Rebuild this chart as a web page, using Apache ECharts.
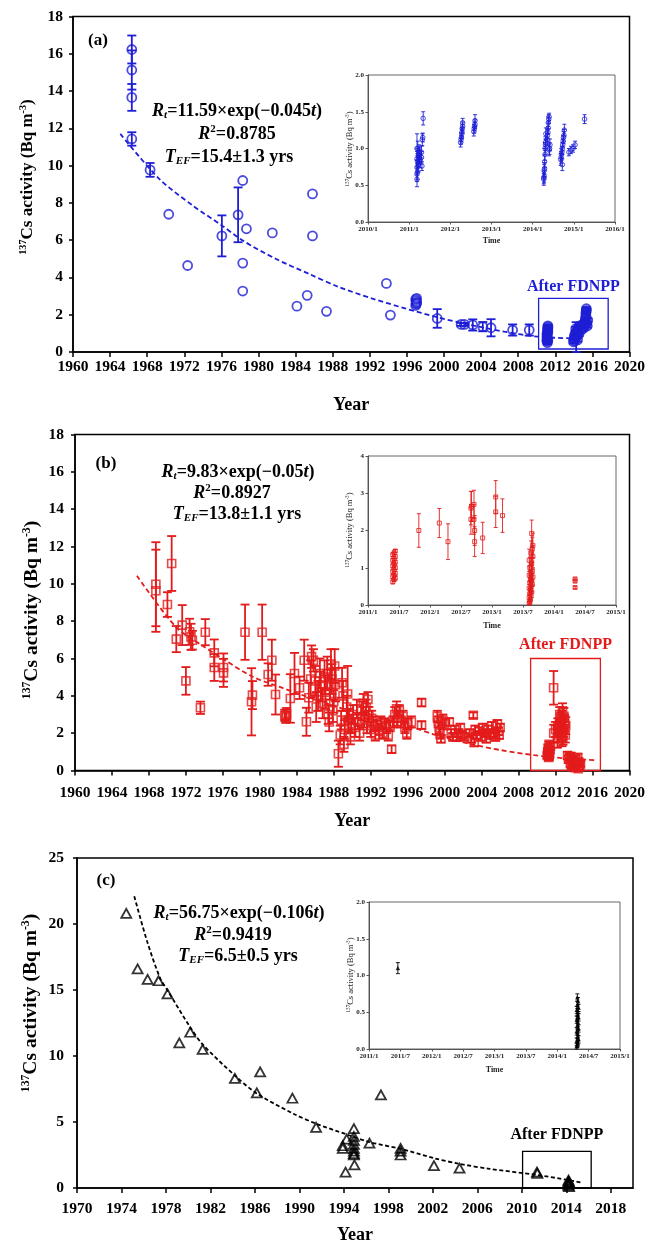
<!DOCTYPE html>
<html><head><meta charset="utf-8">
<script src="https://cdn.jsdelivr.net/npm/echarts@6/dist/echarts.min.js"></script>
<style>html,body{margin:0;padding:0;background:#fff}#c{width:648px;height:1245px}</style>
</head><body><div id="c"></div>
<script>
// ---------- DATA: [year, value, error] ----------
const aMain = [
[1966.34,16.23,0.75],[1966.34,15.13,1.05],[1966.34,13.66,0.72],[1966.34,11.43,0.36],
[1968.31,9.77,0.37],[1970.32,7.39,0],[1972.36,4.64,0],[1976.05,6.23,1.1],[1977.8,7.36,1.47],
[1978.3,9.2,0],[1978.3,4.77,0],[1978.3,3.27,0],[1978.7,6.61,0],[1981.49,6.39,0],
[1984.14,2.46,0],[1985.25,3.04,0],[1985.82,8.48,0],[1985.82,6.23,0],[1987.33,2.18,0],
[1993.79,3.68,0],[1994.22,1.98,0],
[1996.95,2.5,0],[1997.0,2.58,0],[1997.05,2.66,0],[1997.0,2.74,0],[1996.95,2.82,0],[1997.05,2.88,0],[1997.0,2.62,0],
[1999.27,1.80,0.5],[2001.85,1.48,0.08],[2002.2,1.48,0.08],[2003.1,1.45,0.3],[2004.18,1.36,0.25],[2005.07,1.30,0.46],[2007.4,1.18,0.3],[2009.19,1.18,0.3],
[2011.1,0.58,0.08],[2011.1,0.66,0.08],[2011.15,0.72,0.08],[2011.1,0.8,0.08],[2011.15,0.88,0.08],[2011.1,0.96,0.08],[2011.15,1.02,0.08],[2011.2,1.1,0.08],[2011.15,1.18,0.08],[2011.2,1.26,0.08],[2011.2,1.34,0.08],[2011.2,1.4,0.06],[2011.2,0.62,0.08],[2011.15,0.5,0.08],
[2013.95,0.55,0.1],[2014.0,0.7,0.1],[2014.05,0.85,0.1],[2014.1,0.6,0.1],[2014.15,1.0,0.1],[2014.2,0.75,0.1],[2014.25,0.8,0.8],[2014.3,1.1,0.1],[2014.35,0.9,0.1],[2014.4,1.2,0.1],[2014.45,1.05,0.1],[2014.5,1.3,0.1],[2014.55,0.95,0.1],[2014.6,1.4,0.1],[2014.4,0.65,0.1],[2014.2,1.25,0.1],
[2014.85,1.2,0.1],[2014.9,1.35,0.1],[2015.0,1.5,0.1],[2015.1,1.3,0.1],[2015.2,1.65,0.1],[2015.25,1.8,0.1],[2015.3,1.95,0.1],[2015.3,2.1,0.1],[2015.35,2.22,0.1],[2015.35,2.32,0.08],[2015.4,1.55,0.1],[2015.45,1.4,0.1],[2015.2,1.45,0.1],[2015.5,1.7,0.1]
];
const aFit = [[1965.1,11.7],[1969.3,9.29],[1972.9,7.86],[1976.05,6.79],[1978.3,5.98],[1981.85,5.0],[1985.4,4.2],[1988.6,3.5],[1992.2,2.88],[1995.8,2.34],[1999.3,1.86],[2002.9,1.45],[2006.5,1.09],[2010.1,0.82],[2013.7,0.73],[2014.7,0.7]];
const aInset = [
[2011.19,0.58,0.1],[2011.19,0.65,0.1],[2011.2,0.68,0.1],[2011.19,0.74,0.1],[2011.2,0.83,0.1],[2011.19,0.86,0.1],[2011.19,1.0,0.2],[2011.21,1.0,0.1],[2011.22,0.9,0.1],[2011.23,0.78,0.1],[2011.24,0.95,0.1],[2011.25,0.88,0.1],[2011.26,0.92,0.1],[2011.27,0.84,0.1],
[2011.3,0.88,0.08],[2011.3,0.95,0.08],[2011.32,1.12,0.08],[2011.33,1.15,0.06],[2011.34,1.41,0.09],[2011.31,0.76,0.06],
[2012.25,1.08,0.06],[2012.26,1.12,0.06],[2012.27,1.15,0.06],[2012.28,1.2,0.06],[2012.28,1.22,0.06],[2012.29,1.27,0.06],[2012.3,1.3,0.06],[2012.3,1.35,0.06],
[2012.57,1.23,0.06],[2012.58,1.27,0.06],[2012.59,1.3,0.06],[2012.6,1.33,0.06],[2012.6,1.38,0.08],
[2014.27,0.58,0.08],[2014.27,0.6,0.08],[2014.28,0.62,0.08],[2014.28,0.7,0.08],[2014.29,0.73,0.08],[2014.29,0.82,0.08],[2014.3,0.92,0.08],[2014.3,1.0,0.08],[2014.31,1.05,0.08],[2014.31,1.08,0.08],[2014.32,1.2,0.08],[2014.35,1.12,0.08],[2014.36,1.18,0.08],[2014.37,1.22,0.08],[2014.38,1.28,0.08],[2014.38,1.35,0.08],[2014.39,1.4,0.06],[2014.4,1.43,0.05],[2014.41,1.0,0.08],[2014.42,1.05,0.08],[2014.4,0.98,0.08],
[2014.68,0.85,0.08],[2014.69,0.88,0.08],[2014.7,0.92,0.08],[2014.71,0.95,0.08],[2014.72,1.0,0.08],[2014.73,1.05,0.08],[2014.74,1.1,0.08],[2014.75,1.15,0.08],[2014.76,1.18,0.08],[2014.77,1.25,0.08],[2014.72,0.78,0.08],
[2014.88,0.95,0.05],[2014.93,0.98,0.05],[2014.98,1.0,0.05],[2015.03,1.05,0.05],
[2015.26,1.4,0.06]
];

const bMain = [
[1968.75,9.98,2.25],[1968.75,9.63,2.2],[1970.0,8.89,0.66],[1970.46,11.09,1.47],[1970.96,7.04,0.7],[1971.6,7.79,1.07],[1972.0,4.8,0.74],[1972.4,7.43,0.7],[1972.55,7.16,0.7],[1972.7,6.98,0.5],[1973.57,3.36,0.33],[1974.1,7.41,0.7],[1975.07,6.3,0.72],[1975.07,5.52,0.72],[1976.07,5.52,0.75],[1976.07,5.23,0.75],[1978.4,7.41,1.48],[1979.1,3.68,1.8],[1979.2,4.04,0.75],[1980.25,7.41,1.48],[1980.9,5.14,0.6],[1981.3,5.91,1.1],[1981.7,4.07,1.07],[1982.7,2.96,0.3],[1982.8,2.85,0.3],[1982.9,3.05,0.3],[1983.3,3.86,1.3],[1983.75,5.2,1.1],[1984.3,4.43,0.6],[1984.8,5.91,1.1],[1985.04,2.61,0.75],[1985.3,3.9,0.8],[1985.5,4.9,1.0],
[1985.6,6.1,0.6],[1985.8,5.9,0.6],[1986.0,4.8,0.8],[1986.1,3.4,0.8],[1986.3,4.0,0.8],[1986.5,5.2,0.8],[1986.6,4.5,0.8],[1986.8,3.6,0.8],[1987.0,5.0,0.9],[1987.1,4.2,0.9],[1987.3,5.2,0.9],[1987.4,3.0,0.5],[1987.5,2.6,0.5],[1987.6,4.6,0.8],[1987.7,5.7,0.8],[1987.8,4.9,0.8],[1987.9,3.2,0.6],[1988.0,3.7,0.6],[1988.1,5.6,0.9],[1988.2,4.6,0.9],
[1988.5,0.9,0.7],[1988.7,1.9,0.5],[1988.8,2.7,0.5],[1988.9,4.7,0.8],[1989.0,4.0,0.8],[1989.1,1.4,0.4],[1989.2,2.2,0.5],[1989.4,3.4,0.6],[1989.5,4.1,1.5],[1989.6,2.7,0.6],[1989.8,1.8,0.4],[1989.9,2.5,0.5],
[1990.1,3.0,0.5],[1990.3,2.3,0.5],[1990.5,3.3,0.5],[1990.6,2.6,0.4],[1990.8,2.0,0.4],[1991.0,3.2,0.5],[1991.2,3.6,0.5],[1991.3,2.7,0.4],[1991.5,3.4,0.4],[1991.6,2.4,0.4],[1991.7,3.8,0.4],[1991.8,3.0,0.4],[1992.0,2.2,0.4],[1992.1,2.8,0.4],[1992.3,2.5,0.4],[1992.5,1.9,0.3],[1992.7,2.4,0.3],[1992.9,2.2,0.3],[1993.1,2.6,0.3],[1993.3,2.0,0.3],[1993.5,2.5,0.3],[1993.7,2.3,0.3],[1993.9,1.9,0.3],[1994.1,2.4,0.3],[1994.26,1.14,0.2],[1994.4,2.6,0.3],[1994.6,3.0,0.4],[1994.8,3.3,0.4],[1994.9,2.8,0.4],[1995.1,3.2,0.3],[1995.3,2.6,0.3],[1995.5,2.9,0.3],[1995.7,2.3,0.3],[1995.9,2.0,0.3],[1996.0,2.5,0.3],[1996.4,2.6,0.3],[1997.5,3.64,0.2],[1997.5,2.43,0.2],
[1999.2,2.9,0.3],[1999.3,2.6,0.3],[1999.4,2.3,0.3],[1999.5,2.0,0.3],[1999.6,1.7,0.2],[1999.8,2.7,0.3],[2000.0,2.5,0.3],[2000.5,2.6,0.2],[2000.7,2.0,0.2],[2000.9,1.8,0.2],[2001.1,2.2,0.2],[2001.3,1.8,0.2],[2001.5,2.0,0.2],[2001.7,2.3,0.2],[2001.9,1.9,0.2],[2002.1,1.8,0.2],
[2002.7,2.0,0.2],[2002.9,1.7,0.2],[2003.1,2.96,0.15],[2003.2,1.5,0.2],[2003.3,2.2,0.2],[2003.5,1.9,0.2],[2003.7,2.1,0.2],[2003.9,1.8,0.2],[2004.1,2.3,0.2],[2004.3,2.0,0.2],[2004.5,1.7,0.2],[2004.7,2.2,0.2],[2004.9,1.9,0.2],[2005.1,2.4,0.2],[2005.3,2.0,0.2],[2005.5,1.8,0.2],[2005.7,2.5,0.2],[2005.8,2.1,0.2],[2005.9,1.9,0.2],[2006.0,2.3,0.2],
[2011.1,0.8,0.15],[2011.15,1.0,0.15],[2011.2,1.2,0.15],[2011.25,0.7,0.15],[2011.3,1.4,0.15],[2011.35,0.9,0.15],[2011.4,1.1,0.15],[2011.45,1.3,0.15],[2011.2,0.95,0.15],[2011.3,0.75,0.15],
[2011.79,4.43,0.9],[2011.8,2.0,0.45],[2012.0,2.2,0.4],[2012.2,1.7,0.48],[2012.25,2.4,0.4],[2012.35,1.9,0.4],[2012.4,2.3,0.4],[2012.45,3.0,0.4],[2012.5,2.6,0.4],[2012.55,2.7,0.4],[2012.6,2.0,0.4],[2012.65,2.8,0.4],[2012.7,1.7,0.4],[2012.75,3.2,0.4],[2012.8,1.8,0.42],[2012.85,2.2,0.4],[2012.9,2.9,0.45],[2012.95,2.6,0.4],[2013.0,2.5,0.42],[2013.05,1.9,0.4],[2013.1,2.4,0.45],
[2013.3,0.8,0.2],[2013.4,0.6,0.2],[2013.5,0.7,0.2],[2013.6,0.4,0.2],[2013.65,0.75,0.2],[2013.7,0.3,0.2],[2013.8,0.55,0.2],[2013.85,0.2,0.15],[2013.9,0.5,0.2],[2014.0,0.3,0.2],[2014.1,0.15,0.15],[2014.2,0.6,0.2],[2014.3,0.4,0.2],[2014.4,0.7,0.2],[2014.45,0.1,0.1],[2014.5,0.45,0.2],[2014.6,0.2,0.15],[2014.7,0.35,0.15]
];
const bFit = [[1966.7,10.43],[1970.9,7.7],[1973.75,6.7],[1976.25,5.91],[1979.1,5.05],[1982.3,4.45],[1986,3.8],[1990,3.15],[1993,2.8],[1996.4,2.34],[1998.9,1.92],[2002.5,1.45],[2006.1,1.09],[2009.7,0.82],[2013.25,0.64],[2016.5,0.55]];
const bInset = [
[2011.4,0.62,0.05],[2011.42,0.68,0.05],[2011.44,0.72,0.05],[2011.4,0.76,0.05],[2011.42,0.8,0.05],[2011.44,0.85,0.05],[2011.4,0.9,0.05],[2011.42,0.95,0.05],[2011.44,1.0,0.05],[2011.4,1.05,0.05],[2011.42,1.1,0.05],[2011.44,1.15,0.05],[2011.4,1.2,0.05],[2011.42,1.25,0.05],[2011.44,1.3,0.05],[2011.4,1.35,0.05],[2011.42,1.4,0.05],[2011.44,1.45,0.04],
[2011.82,2.0,0.45],[2012.15,2.2,0.39],[2012.29,1.7,0.48],[2012.66,2.6,0.45],[2012.66,2.3,0.4],[2012.67,2.65,0.4],[2012.71,2.7,0.38],[2012.71,2.3,0.4],[2012.72,2.0,0.4],[2012.72,1.7,0.4],[2012.85,1.8,0.42],[2013.06,2.9,0.44],[2013.06,2.5,0.42],[2013.17,2.4,0.45],
[2013.6,0.05,0.05],[2013.61,0.1,0.08],[2013.62,0.15,0.1],[2013.6,0.2,0.12],[2013.63,0.25,0.12],[2013.61,0.3,0.15],[2013.64,0.35,0.15],[2013.62,0.4,0.15],[2013.6,0.45,0.18],[2013.63,0.5,0.18],[2013.65,0.55,0.2],[2013.61,0.6,0.2],[2013.64,0.65,0.2],[2013.62,0.7,0.22],[2013.66,0.75,0.22],[2013.6,0.8,0.25],[2013.63,0.85,0.25],[2013.65,0.9,0.25],[2013.61,1.0,0.28],[2013.64,1.1,0.3],[2013.6,1.2,0.3],[2013.66,1.3,0.3],[2013.63,1.4,0.32],[2013.65,1.5,0.32],[2013.66,1.6,0.33],[2013.64,1.92,0.36],
[2014.34,0.7,0.03],[2014.34,0.64,0.03],[2014.34,0.47,0.03]
];

const cMain = [
[1974.43,20.8],[1975.45,16.6],[1976.35,15.8],[1977.33,15.7],[1978.14,14.7],[1979.2,11.0],[1980.18,11.8],[1981.3,10.5],[1984.2,8.3],[1986.17,7.2],[1986.47,8.8],[1989.37,6.8],[1991.5,4.6],
[1993.9,3.0],[1993.9,3.2],[1994.25,3.7],[1994.15,1.2],[1994.9,4.5],[1994.9,3.9],[1994.9,3.6],[1994.9,3.3],[1994.9,3.0],[1994.9,2.8],[1994.9,2.6],[1994.9,2.5],[1994.95,1.75],
[1996.3,3.4],[1997.33,7.05],[1999.1,3.0],[1999.1,2.8],[1999.1,2.5],[2002.1,1.7],[2004.4,1.5],
[2011.36,1.2],[2011.4,1.1],[2014.2,0.6],[2014.2,0.5],[2014.2,0.4],[2014.2,0.3],[2014.2,0.2],[2014.25,0.1],[2014.25,0.45]
];
const cFit = [[1975.15,22.1],[1976.3,18.7],[1977.49,15.86],[1978.14,14.97],[1980.18,12.18],[1981.32,10.86],[1984.22,8.5],[1986.17,7.16],[1989.46,5.63],[1991.5,4.87],[1994.25,4.06],[1996.3,3.48],[1999.1,2.97],[2002.1,2.26],[2004.4,1.83],[2007.1,1.45],[2011.36,0.99],[2014.2,0.6],[2015.4,0.4]];
const cInset = [
[2011.46,1.1,0.075],
[2014.31,0.04,0.04],[2014.32,0.06,0.04],[2014.33,0.08,0.04],[2014.31,0.1,0.05],[2014.34,0.13,0.05],[2014.32,0.16,0.05],[2014.33,0.2,0.05],[2014.31,0.24,0.05],[2014.34,0.28,0.05],[2014.32,0.32,0.05],[2014.33,0.36,0.05],[2014.31,0.4,0.05],[2014.34,0.43,0.05],[2014.32,0.46,0.05],[2014.33,0.5,0.05],[2014.31,0.53,0.05],[2014.34,0.56,0.05],[2014.32,0.6,0.05],[2014.33,0.65,0.05],[2014.32,0.7,0.05]
];

// "After FDNPP" boxes: [xMin, yMin, xMax, yMax]
const aBox = [2010.2, 0.16, 2017.7, 2.875];
const bBox = [2009.3, 0, 2016.85, 6.0];
const cBox = [2010.07, 0, 2016.24, 2.77];

// ---------- STYLE ----------
const FONT = 'Liberation Serif';
const BLUE = '#1e1ed6', RED = '#e31b1b', BLACK = '#000000';

function errRender(cap, color, lw) {
  return function (params, api) {
    const x = api.value(0);
    const p1 = api.coord([x, api.value(1)]);
    const p2 = api.coord([x, api.value(2)]);
    const st = { stroke: color, lineWidth: lw };
    return { type: 'group', children: [
      { type: 'line', shape: { x1: p1[0], y1: p1[1], x2: p2[0], y2: p2[1] }, style: st },
      { type: 'line', shape: { x1: p1[0] - cap / 2, y1: p1[1], x2: p1[0] + cap / 2, y2: p1[1] }, style: st },
      { type: 'line', shape: { x1: p2[0] - cap / 2, y1: p2[1], x2: p2[0] + cap / 2, y2: p2[1] }, style: st }
    ]};
  };
}
function errSeries(data, idx, cap, color, lw) {
  return { type: 'custom', xAxisIndex: idx, yAxisIndex: idx, silent: true, z: 2,
    data: data.filter(d => d[2] > 0).map(d => [d[0], d[1] - d[2], d[1] + d[2]]),
    renderItem: errRender(cap, color, lw) };
}
function scat(data, idx, symbol, size, color, bw, fill) {
  return { type: 'scatter', xAxisIndex: idx, yAxisIndex: idx, silent: true, z: 3,
    data: data.map(d => [d[0], d[1]]), symbol, symbolSize: size,
    itemStyle: { color: fill, borderColor: color, borderWidth: bw } };
}
function fit(data, idx, color, dash, box, dist) {
  return { type: 'line', xAxisIndex: idx, yAxisIndex: idx, silent: true, z: 4,
    data: data, smooth: 0.3, symbol: 'none', showSymbol: false,
    lineStyle: { color, width: 1.8, type: dash },
    markArea: { silent: true,
      itemStyle: { color: 'rgba(0,0,0,0)', borderColor: color, borderWidth: 1.3 },
      label: { show: true, position: 'top', distance: dist, color, fontFamily: FONT, fontWeight: 'bold', fontSize: 16 },
      data: [[{ name: 'After FDNPP', coord: [box[0], box[1]] }, { coord: [box[2], box[3]] }]] } };
}

const plainFmt = v => String(Math.round(v));
function mainX(gi, min, max, margin, gap, showMax) {
  return { type: 'value', gridIndex: gi, min, max, interval: 4,
    axisLine: { show: true, onZero: false, lineStyle: { color: '#000', width: 1.5 } },
    axisTick: { show: true, length: 5, lineStyle: { color: '#000', width: 1.5 } },
    axisLabel: { color: '#000', fontFamily: FONT, fontWeight: 'bold', fontSize: 15.5, margin, showMaxLabel: showMax, formatter: plainFmt },
    splitLine: { show: false },
    name: 'Year', nameLocation: 'middle', nameGap: gap,
    nameTextStyle: { color: '#000', fontFamily: FONT, fontWeight: 'bold', fontSize: 18 } };
}
function mainY(gi, max, interval, margin) {
  return { type: 'value', gridIndex: gi, min: 0, max, interval,
    axisLine: { show: true, onZero: false, lineStyle: { color: '#000', width: 1.5 } },
    axisTick: { show: true, length: 4, lineStyle: { color: '#000', width: 1.5 } },
    axisLabel: { color: '#000', fontFamily: FONT, fontWeight: 'bold', fontSize: 15.5, margin, formatter: plainFmt },
    splitLine: { show: false } };
}
function insetX(gi, min, max, interval, fmt, gap) {
  return { type: 'value', gridIndex: gi, min, max, interval,
    axisLine: { show: true, onZero: false, lineStyle: { color: '#555', width: 1 } },
    axisTick: { show: true, length: 2.5, lineStyle: { color: '#555', width: 1 } },
    axisLabel: { color: '#222', fontFamily: FONT, fontWeight: 'bold', fontSize: 7, margin: 4, formatter: fmt },
    splitLine: { show: false },
    name: 'Time', nameLocation: 'middle', nameGap: gap,
    nameTextStyle: { color: '#222', fontFamily: FONT, fontWeight: 'bold', fontSize: 8 } };
}
function insetY(gi, max, interval, fmt) {
  return { type: 'value', gridIndex: gi, min: 0, max, interval,
    axisLine: { show: true, onZero: false, lineStyle: { color: '#555', width: 1 } },
    axisTick: { show: true, length: 2.5, lineStyle: { color: '#555', width: 1 } },
    axisLabel: { color: '#222', fontFamily: FONT, fontWeight: 'bold', fontSize: 7, margin: 4, formatter: fmt },
    splitLine: { show: false } };
}
const yearFmt = v => String(Math.round(v)) + '/1';
const halfFmt = v => { const y = Math.floor(v + 1e-6); return (Math.abs(v - y) < 0.01) ? y + '/1' : y + '/7'; };
const f1 = v => v.toFixed(1);
const f0 = v => String(Math.round(v));

const eqRich = {
  n: { fontFamily: FONT, fontWeight: 'bold', fontSize: 18, fill: '#000', lineHeight: 20 },
  i: { fontFamily: FONT, fontWeight: 'bold', fontStyle: 'italic', fontSize: 18, fill: '#000', lineHeight: 20 },
  sub: { fontFamily: FONT, fontWeight: 'bold', fontStyle: 'italic', fontSize: 11, fill: '#000', verticalAlign: 'bottom', lineHeight: 20 },
  sup: { fontFamily: FONT, fontWeight: 'bold', fontSize: 11, fill: '#000', verticalAlign: 'top', lineHeight: 20 }
};
function eq(x, y, text) {
  return { type: 'text', x, y, z: 10, style: { text, rich: eqRich, align: 'center', verticalAlign: 'middle' } };
}
function ytitle(x, y, size, bold, color) {
  const w = bold ? 'bold' : 'normal';
  return { type: 'text', x, y, rotation: Math.PI / 2, z: 10,
    style: { text: '{s|137}{b|Cs activity (Bq m}{s|-3}{b|)}', align: 'center', verticalAlign: 'middle',
      rich: {
        b: { fontFamily: FONT, fontWeight: w, fontSize: size, fill: color, lineHeight: size * 1.15 },
        s: { fontFamily: FONT, fontWeight: w, fontSize: size * 0.6, fill: color, verticalAlign: 'top', lineHeight: size * 1.15 }
      } } };
}
function plabel(x, y, t) {
  return { type: 'text', x, y, z: 10, style: { text: t, fontFamily: FONT, fontWeight: 'bold', fontSize: 17, fill: '#000', align: 'center', verticalAlign: 'middle' } };
}

const option = {
  animation: false,
  backgroundColor: '#fff',
  grid: [
    { left: 73, top: 16.5, width: 559, height: 335.5, show: true, borderColor: '#000', borderWidth: 1.5 },
    { left: 368, top: 75, width: 247, height: 147, show: true, borderColor: '#666', borderWidth: 1, backgroundColor: '#fff' },
    { left: 75, top: 434.5, width: 561, height: 336, show: true, borderColor: '#000', borderWidth: 1.5 },
    { left: 368, top: 456, width: 248, height: 149, show: true, borderColor: '#666', borderWidth: 1, backgroundColor: '#fff' },
    { left: 77, top: 858, width: 556, height: 331, show: true, borderColor: '#000', borderWidth: 1.5 },
    { left: 369, top: 902, width: 251, height: 147, show: true, borderColor: '#666', borderWidth: 1, backgroundColor: '#fff' }
  ],
  xAxis: [
    mainX(0, 1960, 2020, 7, 44, true),
    insetX(1, 2010, 2016, 1, yearFmt, 15),
    mainX(2, 1960, 2020, 14, 42, true),
    insetX(3, 2011, 2015, 0.5, halfFmt, 17),
    mainX(4, 1970, 2020, 13, 38, false),
    insetX(5, 2011, 2015, 0.5, halfFmt, 17)
  ],
  yAxis: [
    mainY(0, 18, 2, 10),
    insetY(1, 2, 0.5, f1),
    mainY(2, 18, 2, 11),
    insetY(3, 4, 1, f0),
    mainY(4, 25, 5, 13),
    insetY(5, 2, 0.5, f1)
  ],
  series: [
    errSeries(aMain, 0, 9, BLUE, 1.8),
    scat(aMain, 0, 'circle', 9, BLUE, 1.8, 'rgba(0,0,0,0)'),
    fit(aFit, 0, BLUE, [5, 3], aBox, 3),
    errSeries(aInset, 1, 4, BLUE, 0.9),
    scat(aInset, 1, 'circle', 4.5, BLUE, 1, 'rgba(0,0,0,0)'),

    errSeries(bMain, 2, 9, RED, 1.8),
    scat(bMain, 2, 'rect', 8, RED, 1.6, 'rgba(0,0,0,0)'),
    fit(bFit, 2, RED, [5, 3], bBox, 5),
    errSeries(bInset, 3, 4, RED, 0.9),
    scat(bInset, 3, 'rect', 4, RED, 1, 'rgba(0,0,0,0)'),

    scat(cMain, 4, 'triangle', [10, 9], BLACK, 1.8, 'rgba(0,0,0,0)'),
    fit(cFit, 4, BLACK, [4, 2.5], cBox, 8),
    errSeries(cInset, 5, 4, BLACK, 0.9),
    scat(cInset, 5, 'triangle', 3.5, BLACK, 0.6, BLACK)
  ],
  graphic: [
    plabel(98, 41, '(a)'),
    eq(237, 111, '{i|R}{sub|t}{n|=11.59×exp(−0.045}{i|t}{n|)}'),
    eq(237, 134, '{i|R}{sup|2}{n|=0.8785}'),
    eq(229, 157, '{i|T}{sub|EF}{n|=15.4±1.3 yrs}'),
    ytitle(28, 177, 17, true, '#000'),
    ytitle(350, 149, 8.5, false, '#222'),

    plabel(106, 464, '(b)'),
    eq(238, 472, '{i|R}{sub|t}{n|=9.83×exp(−0.05}{i|t}{n|)}'),
    eq(232, 493, '{i|R}{sup|2}{n|=0.8927}'),
    eq(237, 514, '{i|T}{sub|EF}{n|=13.8±1.1 yrs}'),
    ytitle(32, 610, 19.5, true, '#000'),
    ytitle(350, 530, 8.5, false, '#222'),

    plabel(106, 881, '(c)'),
    eq(239, 913, '{i|R}{sub|t}{n|=56.75×exp(−0.106}{i|t}{n|)}'),
    eq(233, 935, '{i|R}{sup|2}{n|=0.9419}'),
    eq(238, 956, '{i|T}{sub|EF}{n|=6.5±0.5 yrs}'),
    ytitle(31, 1003, 19.5, true, '#000'),
    ytitle(351, 975, 8.5, false, '#222')
  ]
};
const chart = echarts.init(document.getElementById('c'), null, { renderer: 'canvas' });
chart.setOption(option);
</script></body></html>
